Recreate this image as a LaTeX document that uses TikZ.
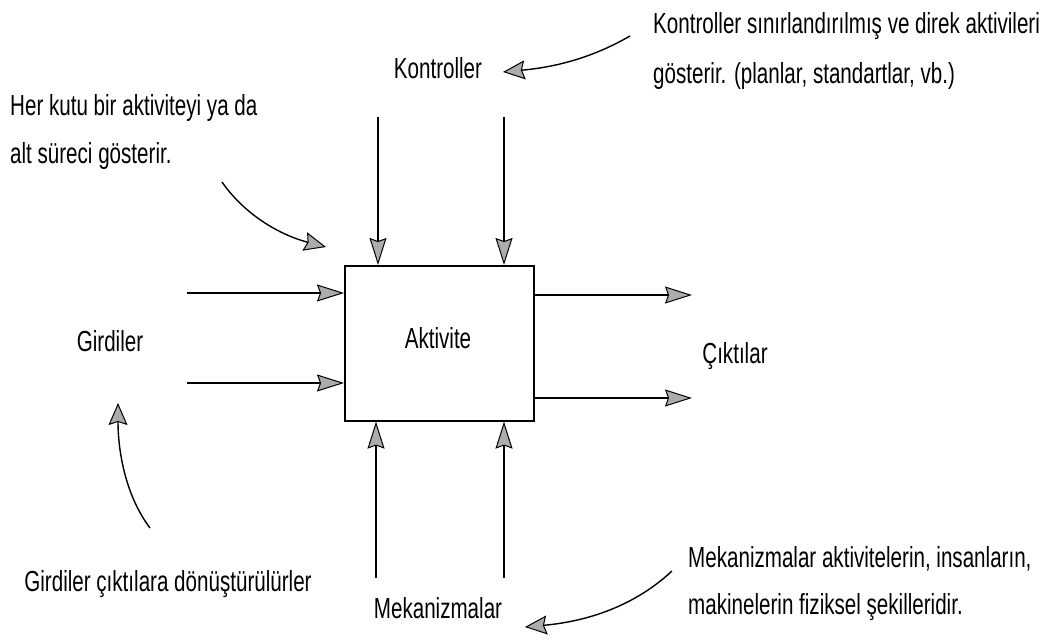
\documentclass[tikz,border=0pt]{standalone}
\usepackage{fontspec}
\setmainfont{Liberation Sans}[FakeStretch=0.71]
\usetikzlibrary{arrows.meta}
\begin{document}
\begin{tikzpicture}[x=1pt,y=-1pt,
  flow/.style={line width=1.4pt,-{Stealth[length=27pt,width=17pt,inset=3pt,fill=gray!65,line width=1pt]}},
  note/.style={line width=1.4pt,-{Stealth[length=22pt,width=19pt,inset=3pt,fill=gray!65,line width=1pt]}},
  lbl/.style={font=\fontsize{29}{34}\selectfont,inner sep=0pt,anchor=base},
  txt/.style={font=\fontsize{29}{34}\selectfont,inner sep=0pt,anchor=base west}]
\useasboundingbox (0,0) rectangle (1043,641);
% activity box
\node[draw,line width=1.6pt,minimum width=189pt,minimum height=155pt,anchor=north west,inner sep=0pt] (box) at (344,265) {};
\node[lbl] (akt) at (438,348) {Aktivite};
% control arrows (top)
\coordinate (c1) at (378,117); \coordinate (c2) at (504,117);
\draw[flow] (c1) -- (c1 |- box.north);
\draw[flow] (c2) -- (c2 |- box.north);
% input arrows (left)
\coordinate (i1) at (187,293); \coordinate (i2) at (187,383);
\draw[flow] (i1) -- (i1 -| box.west);
\draw[flow] (i2) -- (i2 -| box.west);
% output arrows (right)
\coordinate (o1) at (692,295); \coordinate (o2) at (692,398);
\draw[flow] (o1 -| box.east) -- (o1);
\draw[flow] (o2 -| box.east) -- (o2);
% mechanism arrows (bottom)
\coordinate (m1) at (376,578); \coordinate (m2) at (504,578);
\draw[flow] (m1) -- (m1 |- box.south);
\draw[flow] (m2) -- (m2 |- box.south);
% labels
\node[lbl] (kon) at (438,78) {Kontroller};
\node[lbl] (gir) at (110,351) {Girdiler};
\node[lbl] (cik) at (735,363) {Çıktılar};
\node[lbl] (mek) at (438,618) {Mekanizmalar};
% explanatory notes
\node[txt] (n1a) at (653,33) {Kontroller sınırlandırılmış ve direk aktivileri};
\node[txt] (n1b) at (653,83) {gösterir. (planlar, standartlar, vb.)};
\node[txt] (n2a) at (10,115) {Her kutu bir aktiviteyi ya da};
\node[txt] (n2b) at (10,163) {alt süreci gösterir.};
\node[lbl] (n3) at (168,591) {Girdiler çıktılara dönüştürülürler};
\node[txt] (n4a) at (688,567) {Mekanizmalar aktivitelerin, insanların,};
\node[txt] (n4b) at (688,614) {makinelerin fiziksel şekilleridir.};
% note pointers
\coordinate (p1) at (630,36); \coordinate (t1) at (503,72);
\draw[note] (p1) .. controls (585,62) and (545,68) .. (t1);
\coordinate (p2) at (222,182); \coordinate (t2) at (326,247);
\draw[note] (p2) .. controls (245,215) and (280,235) .. (t2);
\coordinate (p3) at (150,528); \coordinate (t3) at (118,403);
\draw[note] (p3) .. controls (125,495) and (118,450) .. (t3);
\coordinate (p4) at (672,571); \coordinate (t4) at (525,627);
\draw[note] (p4) .. controls (630,610) and (580,622) .. (t4);
\end{tikzpicture}
\end{document}
